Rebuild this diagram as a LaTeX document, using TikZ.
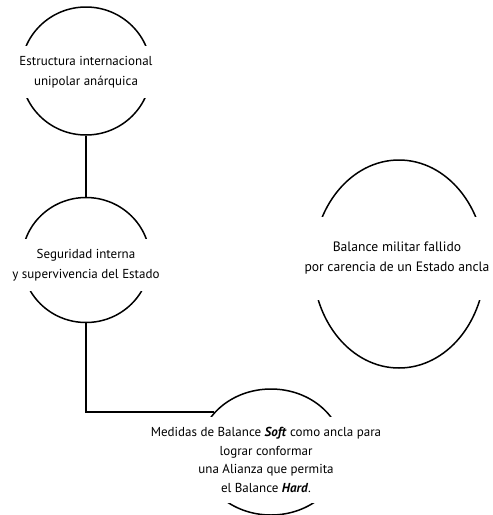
\documentclass[tikz,border=0pt]{standalone}
\usepackage{fontspec}
\setmainfont{PT Sans}
\usetikzlibrary{shapes,positioning,calc}

\begin{document}
\begin{tikzpicture}[
      x=1pt,y=-1pt,line width=1.5pt,
      bubble/.style = {ellipse,draw,inner sep=0pt},
      caption/.style = {rectangle,fill=white,text centered,align=center,inner xsep=6pt,inner ysep=0pt,font=\fontsize{13}{20}\selectfont},
      link/.style = {-,line width=2pt}
    ]
      \useasboundingbox (0,0) rectangle (493,515);
      \node (estructura)[bubble,minimum width=130pt,minimum height=128pt] at (86,71){};
      \node (seguridad)[bubble,minimum width=128pt,minimum height=125pt] at (86,260){};
      \node (medidas)[bubble,minimum width=144pt,minimum height=126pt] at (271,452){};
      \node (fallido)[bubble,minimum width=172pt,minimum height=208pt] at (399,264){};
      \node (estructuraT)[caption,minimum height=52pt] at (86,72){Estructura internacional\\unipolar anárquica};
      \node (seguridadT)[caption,minimum height=52pt] at (86,265){Seguridad interna\\y supervivencia del Estado};
      \node (medidasT)[caption,minimum height=86pt,font=\fontsize{13}{18.5}\selectfont] at (266,460){Medidas de Balance \textbf{\textit{Soft}} como ancla para\\lograr conformar\\una Alianza que permita\\el Balance \textbf{\textit{Hard}}.};
      \node (fallidoT)[caption,minimum height=83pt,font=\fontsize{13.6}{20}\selectfont] at (397,258){Balance militar fallido\\por carencia de un Estado ancla};
      \draw [link] (estructura.south) -- (seguridad.north);
      \draw [link] (seguridad.south) |- (medidas.145);
    \end{tikzpicture}
\end{document}
